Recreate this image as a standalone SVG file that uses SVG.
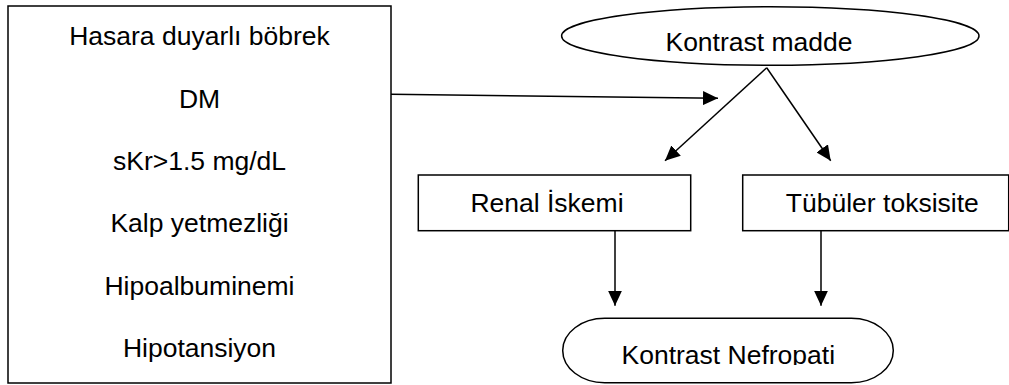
<svg xmlns="http://www.w3.org/2000/svg" width="1009" height="385" viewBox="0 0 1009 385">
  <style>
    .shape { fill: #ffffff; stroke: #000000; stroke-width: 1.5; }
    .label { font-family: "Liberation Sans", Arial, sans-serif; font-size: 26.5px; fill: #000000; text-anchor: middle; }
    .conn { fill: none; stroke: #000000; stroke-width: 1.5; }
  </style>
  <defs>
    <marker id="arrow" viewBox="0 0 15 14" refX="15" refY="7" markerWidth="15" markerHeight="14" markerUnits="userSpaceOnUse" orient="auto">
      <path d="M0,0 L15,7 L0,14 Z" fill="#000000"/>
    </marker>
    <clipPath id="clipNef">
      <rect x="560" y="310" width="340" height="55"/>
    </clipPath>
  </defs>
  <rect x="0" y="0" width="1009" height="385" fill="#ffffff"/>

  <g id="risk-factors">
    <rect class="shape" x="8" y="6" width="383" height="377"/>
    <text class="label" x="199.5" y="45">Hasara duyarlı böbrek</text>
    <text class="label" x="199.5" y="108">DM</text>
    <text class="label" x="199.5" y="170">sKr&gt;1.5 mg/dL</text>
    <text class="label" x="199.5" y="232">Kalp yetmezliği</text>
    <text class="label" x="199.5" y="295">Hipoalbuminemi</text>
    <text class="label" x="199.5" y="357">Hipotansiyon</text>
  </g>

  <g id="kontrast-madde">
    <ellipse class="shape" cx="770.3" cy="36" rx="208.7" ry="29.2"/>
    <text class="label" x="759" y="50.5">Kontrast madde</text>
  </g>

  <g id="renal-iskemi">
    <rect class="shape" x="418.3" y="175" width="272.4" height="55.7"/>
    <text class="label" x="547" y="212">Renal İskemi</text>
  </g>

  <g id="tubuler-toksisite">
    <rect class="shape" x="742.7" y="175" width="266" height="55.7"/>
    <text class="label" x="882.3" y="211.5">Tübüler toksisite</text>
  </g>

  <g id="kontrast-nefropati">
    <rect class="shape" x="562.7" y="318.3" width="330.6" height="64.4" rx="42" ry="32.2"/>
    <text class="label" x="728.3" y="364" font-size="27.5" clip-path="url(#clipNef)">Kontrast Nefropati</text>
  </g>

  <g id="connectors">
    <line class="conn" x1="391" y1="94.3" x2="718" y2="98.3" marker-end="url(#arrow)"/>
    <line class="conn" x1="766.7" y1="67.7" x2="665" y2="160.7" marker-end="url(#arrow)"/>
    <line class="conn" x1="766.7" y1="67.7" x2="830.7" y2="160.7" marker-end="url(#arrow)"/>
    <line class="conn" x1="615" y1="230.7" x2="615" y2="305.7" marker-end="url(#arrow)"/>
    <line class="conn" x1="821" y1="230.7" x2="821" y2="305.7" marker-end="url(#arrow)"/>
  </g>
</svg>
